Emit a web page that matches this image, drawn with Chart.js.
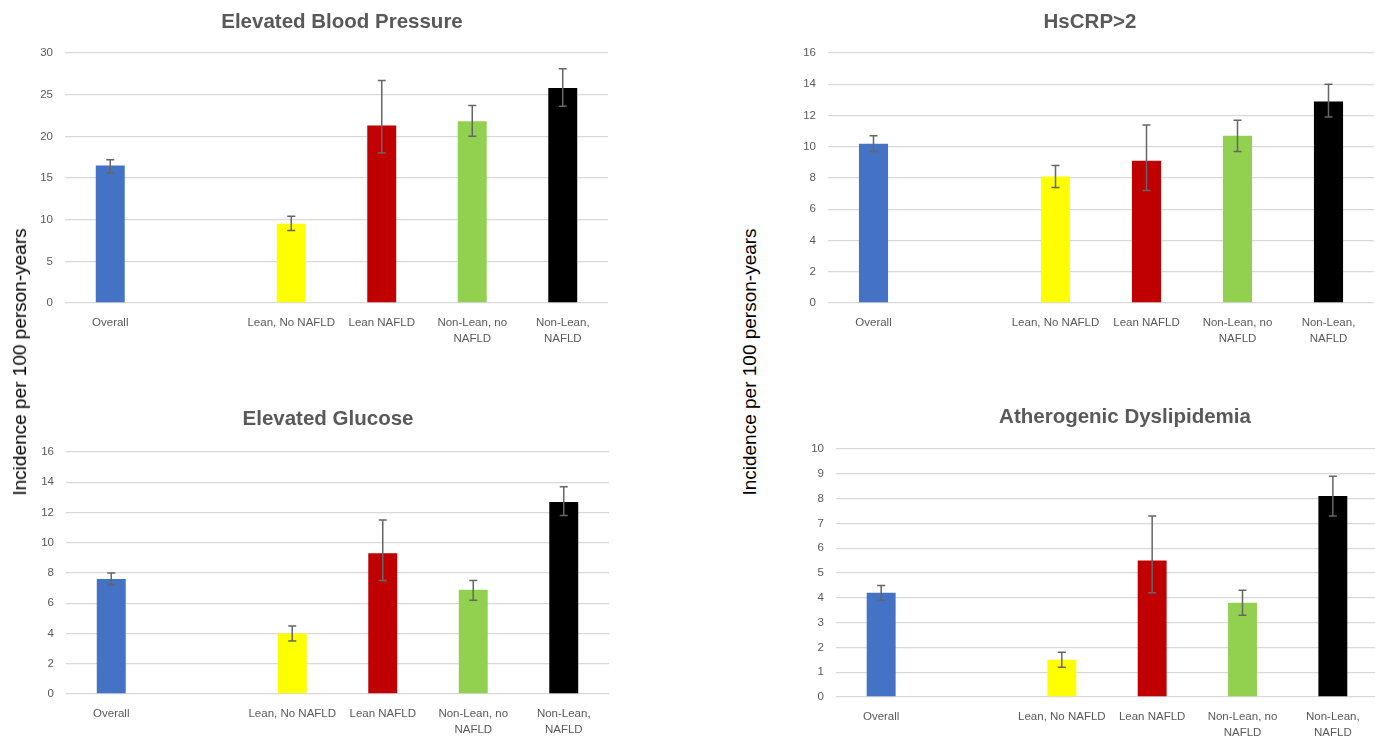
<!DOCTYPE html>
<html>
<head>
<meta charset="utf-8">
<script src="https://cdn.jsdelivr.net/npm/chart.js@4"></script>
<style>
  html, body { margin: 0; padding: 0; background: #fff; width: 1375px; height: 737px; overflow: hidden; position: relative; }
  .box { position: absolute; }
  .ytitle { position: absolute; font-family: "Liberation Sans", Arial, sans-serif; font-size: 19px; color: #000;
            white-space: nowrap; transform: translate(-50%, -50%) rotate(-90deg); }
</style>
</head>
<body>
<div class="box" style="left:0;top:0;width:620px;height:350px"><canvas id="bp"></canvas></div>
<div class="box" style="left:800px;top:0;width:580px;height:350px"><canvas id="crp"></canvas></div>
<div class="box" style="left:0;top:390px;width:620px;height:347px"><canvas id="glu"></canvas></div>
<div class="box" style="left:810px;top:390px;width:570px;height:347px"><canvas id="dys"></canvas></div>
<div class="ytitle" style="left:20px;top:362px">Incidence per 100 person-years</div>
<div class="ytitle" style="left:750px;top:362px">Incidence per 100 person-years</div>

<script>
// categories (one empty slot between Overall and the groups)
const categories = ["Overall", "", "Lean, No NAFLD", "Lean NAFLD", ["Non-Lean, no", "NAFLD"], ["Non-Lean,", "NAFLD"]];
const barColors = ["#4472C4", "#4472C4", "#FFFF00", "#C00000", "#92D050", "#000000"];

// Elevated Blood Pressure
const bpValues = [16.5, null, 9.5, 21.3, 21.8, 25.8];
const bpLow    = [15.6, null, 8.7, 18.0, 20.0, 23.6];
const bpHigh   = [17.2, null, 10.4, 26.7, 23.7, 28.1];

// HsCRP>2
const crpValues = [10.2, null, 8.1, 9.1, 10.7, 12.9];
const crpLow    = [9.7, null, 7.4, 7.2, 9.7, 11.9];
const crpHigh   = [10.7, null, 8.8, 11.4, 11.7, 14.0];

// Elevated Glucose
const gluValues = [7.6, null, 4.0, 9.3, 6.9, 12.7];
const gluLow    = [7.2, null, 3.5, 7.5, 6.2, 11.8];
const gluHigh   = [8.0, null, 4.5, 11.5, 7.5, 13.7];

// Atherogenic Dyslipidemia
const dysValues = [4.2, null, 1.5, 5.5, 3.8, 8.1];
const dysLow    = [3.9, null, 1.2, 4.2, 3.3, 7.3];
const dysHigh   = [4.5, null, 1.8, 7.3, 4.3, 8.9];

const FONT = "'Liberation Sans', Arial, sans-serif";

function makeChart(id, title, values, lo, hi, yMax, yStep, cfg) {
  // error bars + title drawn on the canvas
  const extras = {
    id: "extras",
    afterDatasetsDraw(chart) {
      const ctx = chart.ctx, x = chart.scales.x, y = chart.scales.y;
      ctx.save();
      ctx.strokeStyle = "#666666";
      ctx.lineWidth = 1.5;
      lo.forEach((l, i) => {
        if (l == null) return;
        const px = x.getPixelForValue(i);
        const top = y.getPixelForValue(hi[i]);
        const bot = y.getPixelForValue(l);
        ctx.beginPath();
        ctx.moveTo(px, top); ctx.lineTo(px, bot);
        ctx.moveTo(px - 4, top); ctx.lineTo(px + 4, top);
        ctx.moveTo(px - 4, bot); ctx.lineTo(px + 4, bot);
        ctx.stroke();
      });
      ctx.fillStyle = "#595959";
      ctx.font = "bold 20.5px " + FONT;
      ctx.textAlign = "center";
      ctx.textBaseline = "middle";
      ctx.fillText(title, cfg.titleX, cfg.titleY);
      ctx.restore();
    }
  };

  return new Chart(document.getElementById(id), {
    type: "bar",
    data: {
      labels: categories,
      datasets: [{
        data: values,
        backgroundColor: barColors,
        categoryPercentage: 1,
        barPercentage: 0.32
      }]
    },
    options: {
      responsive: true,
      maintainAspectRatio: false,
      animation: false,
      layout: { padding: { left: 0, right: cfg.padRight, top: cfg.padTop, bottom: 0 } },
      plugins: {
        legend: { display: false },
        tooltip: { enabled: false },
        title: { display: false }
      },
      scales: {
        x: {
          grid: { display: false },
          border: { display: false },
          ticks: {
            color: "#595959",
            font: { family: FONT, size: 11.5, lineHeight: 1.4 },
            padding: 4,
            maxRotation: 0,
            autoSkip: false
          },
          afterFit(scale) { scale.height = cfg.xHeight; }
        },
        y: {
          min: 0,
          max: yMax,
          grid: { color: "#d9d9d9", lineWidth: 1.3, drawTicks: false },
          border: { display: false },
          ticks: {
            stepSize: yStep,
            color: "#595959",
            font: { family: FONT, size: 11.5 },
            padding: 12
          },
          afterFit(scale) { scale.width = cfg.yWidth; }
        }
      }
    },
    plugins: [extras]
  });
}

makeChart("bp", "Elevated Blood Pressure", bpValues, bpLow, bpHigh, 30, 5,
  { padRight: 12, padTop: 53, xHeight: 47, yWidth: 65, titleX: 342, titleY: 22 });
makeChart("crp", "HsCRP>2", crpValues, crpLow, crpHigh, 16, 2,
  { padRight: 6, padTop: 53, xHeight: 47, yWidth: 28, titleX: 290, titleY: 22 });
makeChart("glu", "Elevated Glucose", gluValues, gluLow, gluHigh, 16, 2,
  { padRight: 11, padTop: 62, xHeight: 43, yWidth: 66, titleX: 328, titleY: 29 });
makeChart("dys", "Atherogenic Dyslipidemia", dysValues, dysLow, dysHigh, 10, 1,
  { padRight: 2, padTop: 59, xHeight: 40, yWidth: 26, titleX: 315, titleY: 27 });
</script>
</body>
</html>
